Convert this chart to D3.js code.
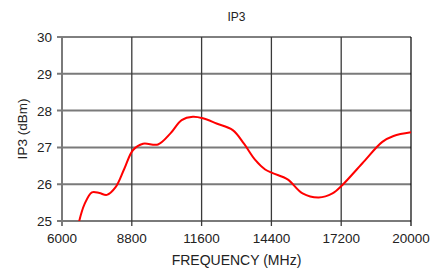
<!DOCTYPE html>
<html>
<head>
  <meta charset="utf-8">
  <title>IP3</title>
  <script src="https://d3js.org/d3.v7.min.js"></script>
  <style>
    body { margin: 0; background: white; font-family: "Liberation Sans", Arial, sans-serif; }
    svg text { fill: #222; }
  </style>
</head>
<body>
  <div id="chart"></div>
  <script>
  // frequency (MHz) and IP3 (dBm)
  var freq = [6680, 6900, 7200, 7500, 7800, 8150, 8500, 8850, 9250, 9850, 10350, 10800, 11250, 11650,
              12200, 12850, 13300, 13750, 14150, 14450, 15050, 15650, 16300, 16850, 17250, 18050, 18850, 19300, 20000]
  var ip3 = [24.97, 25.45, 25.78, 25.76, 25.71, 25.92, 26.42, 26.93, 27.1, 27.08, 27.38, 27.74, 27.83, 27.79,
             27.65, 27.47, 27.1, 26.66, 26.4, 26.3, 26.13, 25.75, 25.64, 25.75, 25.98, 26.57, 27.15, 27.31, 27.41]
  var xTicks = [6000, 8800, 11600, 14400, 17200, 20000]
  var yTicks = [25, 26, 27, 28, 29, 30]

  var width = 447, height = 270
  var margin = {top: 37, right: 36, bottom: 49, left: 62}

  var svg = d3.select("#chart").append("svg")
      .attr("width", width)
      .attr("height", height)

  var x = d3.scaleLinear().domain([6000, 20000]).range([margin.left, width - margin.right])
  var y = d3.scaleLinear().domain([25, 30]).range([height - margin.bottom, margin.top])

  // horizontal grid lines (gray) with ticks on the left
  svg.append("g").selectAll("line")
    .data(yTicks).enter().append("line")
    .attr("x1", x(6000) - 5).attr("x2", x(20000))
    .attr("y1", function (d) { return y(d) }).attr("y2", function (d) { return y(d) })
    .attr("stroke", function (d) { return d === 30 ? "#000" : "#7a7a7a" })
    .attr("stroke-width", function (d) { return d === 30 ? 1 : 2 })

  // vertical grid lines with ticks below
  svg.append("g").selectAll("line")
    .data(xTicks).enter().append("line")
    .attr("x1", function (d) { return x(d) }).attr("x2", function (d) { return x(d) })
    .attr("y1", y(30)).attr("y2", y(25) + 5)
    .attr("stroke", function (d) { return d === 6000 ? "#7a7a7a" : (d === 20000 ? "#000" : "#3a3a3a") })
    .attr("stroke-width", function (d) { return d === 6000 ? 2 : (d === 20000 ? 1.2 : 1.3) })

  // tick labels
  svg.append("g").selectAll("text")
    .data(yTicks).enter().append("text")
    .attr("x", x(6000) - 10)
    .attr("y", function (d) { return y(d) + 5 })
    .attr("text-anchor", "end")
    .style("font-size", "13.5px")
    .text(function (d) { return d })

  svg.append("g").selectAll("text")
    .data(xTicks).enter().append("text")
    .attr("x", function (d) { return x(d) })
    .attr("y", y(25) + 22)
    .attr("text-anchor", "middle")
    .style("font-size", "13.5px")
    .text(function (d) { return d })

  // titles
  svg.append("text")
    .attr("x", (x(6000) + x(20000)) / 2).attr("y", 21)
    .attr("text-anchor", "middle")
    .style("font-size", "12px")
    .text("IP3")

  svg.append("text")
    .attr("x", (x(6000) + x(20000)) / 2).attr("y", 265)
    .attr("text-anchor", "middle")
    .style("font-size", "14px")
    .text("FREQUENCY (MHz)")

  svg.append("text")
    .attr("transform", "translate(27," + ((y(25) + y(30)) / 2) + ") rotate(-90)")
    .attr("text-anchor", "middle")
    .style("font-size", "13.5px")
    .text("IP3 (dBm)")

  // curve, clipped to the plot area
  svg.append("clipPath").attr("id", "clip")
    .append("rect")
    .attr("x", x(6000)).attr("y", y(30))
    .attr("width", x(20000) - x(6000)).attr("height", y(25) - y(30))

  var line = d3.line()
    .x(function (d, i) { return x(freq[i]) })
    .y(function (d) { return y(d) })
    .curve(d3.curveCatmullRom.alpha(0.5))

  svg.append("path")
    .datum(ip3)
    .attr("clip-path", "url(#clip)")
    .attr("d", line)
    .attr("fill", "none")
    .attr("stroke", "#ff0000")
    .attr("stroke-width", 2)
  </script>
</body>
</html>
